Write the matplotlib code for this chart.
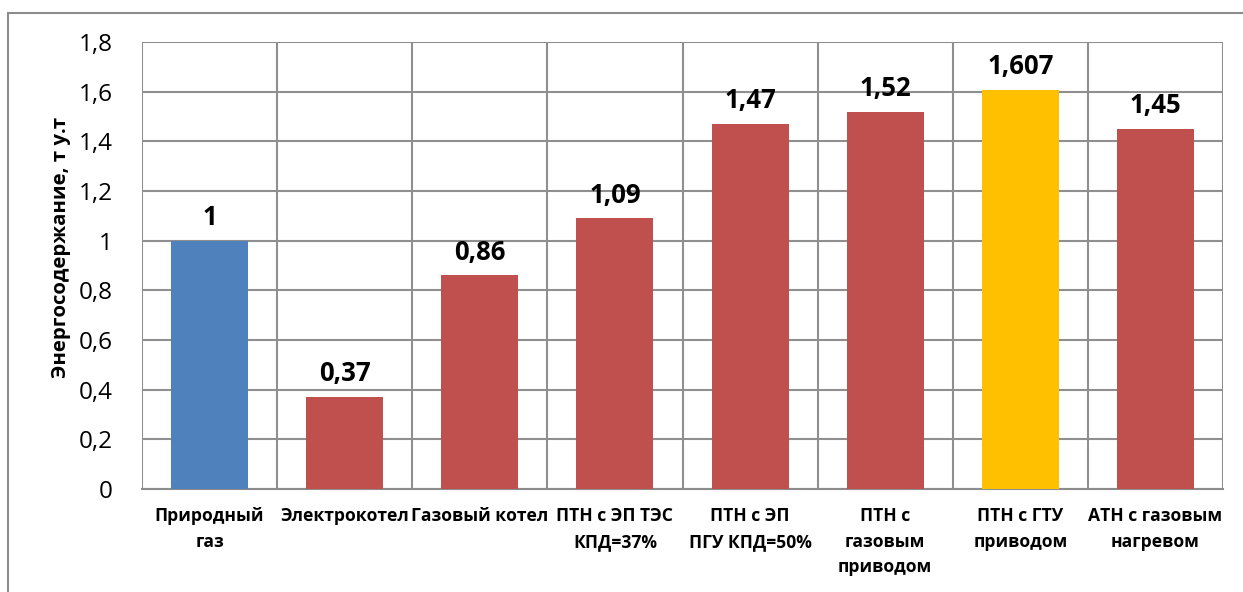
import matplotlib.pyplot as plt
from matplotlib.patches import Rectangle
from matplotlib.ticker import FuncFormatter

# ---------------------------------------------------------------------
# Данные
# ---------------------------------------------------------------------

categories = [
    "Природный\nгаз",
    "Электрокотел",
    "Газовый котел",
    "ПТН с ЭП ТЭС\nКПД=37%",
    "ПТН с ЭП\nПГУ КПД=50%",
    "ПТН с\nгазовым\nприводом",
    "ПТН с ГТУ\nприводом",
    "АТН с газовым\nнагревом",
]
values = [1, 0.37, 0.86, 1.09, 1.47, 1.52, 1.607, 1.45]
value_labels = ["1", "0,37", "0,86", "1,09", "1,47", "1,52", "1,607", "1,45"]
bar_colors = ["#4F81BD", "#C0504D", "#C0504D", "#C0504D",
              "#C0504D", "#C0504D", "#FFC000", "#C0504D"]
y_ticks = [0, 0.2, 0.4, 0.6, 0.8, 1.0, 1.2, 1.4, 1.6, 1.8]

plt.rcParams["font.family"] = ["Open Sans", "DejaVu Sans"]

fig = plt.figure(figsize=(12.43, 5.92), dpi=100)

# рамка области диаграммы
fig.patches.append(Rectangle((8 / 1243, -0.05), 1.1, 1 - 13 / 592 + 0.05,
                             transform=fig.transFigure, fill=False,
                             edgecolor="#8c8c8c", linewidth=1.5))

ax = fig.add_axes([142 / 1243, 1 - 489 / 592, (1223 - 142) / 1243, (489 - 42) / 592])

x = list(range(len(categories)))
ax.bar(x, values, width=0.57, color=bar_colors, zorder=3)

for xi, v, lab in zip(x, values, value_labels):
    ax.annotate(lab, (xi, v), xytext=(0, 7), textcoords="offset points",
                ha="center", va="bottom", fontsize=18.5, fontweight="bold")

ax.set_xlim(-0.5, len(categories) - 0.5)
ax.set_ylim(0, 1.8)
ax.set_yticks(y_ticks)
ax.yaxis.set_major_formatter(
    FuncFormatter(lambda v, p: f"{v:g}".replace(".", ",")))

# вертикальные линии между категориями
for b in range(len(categories) + 1):
    ax.axvline(b - 0.5, color="#8f8f8f", linewidth=1.5, zorder=1)
ax.grid(True, axis="y", color="#8f8f8f", linewidth=1.5, zorder=1)

ax.set_xticks(x)
ax.set_xticklabels(categories, fontsize=12.6, fontweight="bold",
                   linespacing=1.55, va="top")
ax.tick_params(axis="x", length=0, pad=13)
ax.tick_params(axis="y", length=0, pad=21, labelsize=17.5)

for s in ["top", "right", "left"]:
    ax.spines[s].set_visible(False)
ax.spines["bottom"].set_color("#8c8c8c")
ax.spines["bottom"].set_linewidth(1.5)

ax.set_ylabel("Энергосодержание, т у.т", fontsize=14.7, fontweight="bold")
ax.yaxis.set_label_coords(-0.066, 0.541)

fig.savefig("out.png", dpi=100)
